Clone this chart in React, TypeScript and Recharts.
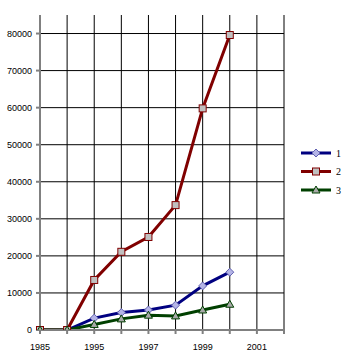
import { LineChart, Line, XAxis, YAxis, CartesianGrid } from "recharts";

const years = ["1985", "1994", "1995", "1996", "1997", "1998", "1999", "2000", "2001", "2002"];
const series1 = [0, 0, 3200, 4700, 5400, 6700, 11900, 15600, null, null];
const series2 = [0, 0, 13500, 21100, 25100, 33700, 59800, 79600, null, null];
const series3 = [0, 0, 1500, 3000, 4000, 3800, 5400, 6950, null, null];
const yTicks = [0, 10000, 20000, 30000, 40000, 50000, 60000, 70000, 80000];
const yMax = 85000;

const data = years.map((year, i) => ({
  year,
  s1: series1[i],
  s2: series2[i],
  s3: series3[i],
}));

const axisFont = { fontSize: 9, fill: "#000", fontFamily: "'Liberation Sans', Arial, sans-serif" };

function Diamond({ cx, cy }: any) {
  if (cx == null || cy == null) return <g />;
  return (
    <polygon
      points={`${cx},${cy - 4} ${cx + 4},${cy} ${cx},${cy + 4} ${cx - 4},${cy}`}
      fill="#b4b4e6"
      stroke="#6060b0"
      strokeWidth={1}
    />
  );
}

function Square({ cx, cy }: any) {
  if (cx == null || cy == null) return <g />;
  return <rect x={cx - 3.5} y={cy - 3.5} width={7} height={7} fill="#c0c0c0" stroke="#800000" strokeWidth={1} />;
}

function Triangle({ cx, cy }: any) {
  if (cx == null || cy == null) return <g />;
  return (
    <polygon
      points={`${cx},${cy - 4} ${cx + 4},${cy + 3} ${cx - 4},${cy + 3}`}
      fill="#a8a8a8"
      stroke="#004000"
      strokeWidth={1}
    />
  );
}

const legendItems = [
  { name: "1", color: "#000080", Marker: Diamond },
  { name: "2", color: "#800000", Marker: Square },
  { name: "3", color: "#004000", Marker: Triangle },
];

// legend drawn by hand so it doesn't eat into the plot area
function ChartLegend() {
  return (
    <svg width={50} height={60} style={{ position: "absolute", left: 300, top: 144 }}>
      {legendItems.map((it, i) => {
        const y = 9 + i * 18.5;
        const M = it.Marker;
        return (
          <g key={it.name}>
            <line x1={1} x2={31} y1={y} y2={y} stroke={it.color} strokeWidth={3} />
            <M cx={16} cy={y} />
            <text
              x={36}
              y={y + 3.5}
              fontSize={10}
              fontFamily="'Liberation Serif', 'Times New Roman', serif"
              fill="#000"
            >
              {it.name}
            </text>
          </g>
        );
      })}
    </svg>
  );
}

// only at the tick values, no line along the top edge
function hLines({ yAxis, offset }: any) {
  if (yAxis && typeof yAxis.scale === "function") return yTicks.map((t) => yAxis.scale(t));
  return yTicks.map((t) => offset.top + offset.height * (1 - t / yMax));
}

export default function App() {
  return (
    <div style={{ position: "absolute", left: 0, top: 0, width: 351, height: 361, background: "#fff" }}>
      <LineChart width={351} height={361} data={data} margin={{ top: 15, right: 67, left: 0, bottom: 0 }}>
        <CartesianGrid stroke="#000" strokeWidth={1} horizontalCoordinatesGenerator={hLines} />
        <XAxis
          dataKey="year"
          interval={0}
          height={31}
          stroke="#808080"
          strokeWidth={2}
          tickSize={4}
          tickMargin={10}
          tick={axisFont}
          tickFormatter={(v: string, i: number) => (i % 2 === 0 ? v : "")}
        />
        <YAxis
          width={40}
          domain={[0, yMax]}
          ticks={yTicks}
          stroke="#808080"
          strokeWidth={2}
          tickSize={4}
          tickMargin={4}
          tick={axisFont}
          allowDataOverflow
        />
        <Line type="linear" dataKey="s1" stroke="#000080" strokeWidth={3} dot={<Diamond />} isAnimationActive={false} />
        <Line type="linear" dataKey="s2" stroke="#800000" strokeWidth={3} dot={<Square />} isAnimationActive={false} />
        <Line type="linear" dataKey="s3" stroke="#004000" strokeWidth={3} dot={<Triangle />} isAnimationActive={false} />
      </LineChart>
      <ChartLegend />
    </div>
  );
}
